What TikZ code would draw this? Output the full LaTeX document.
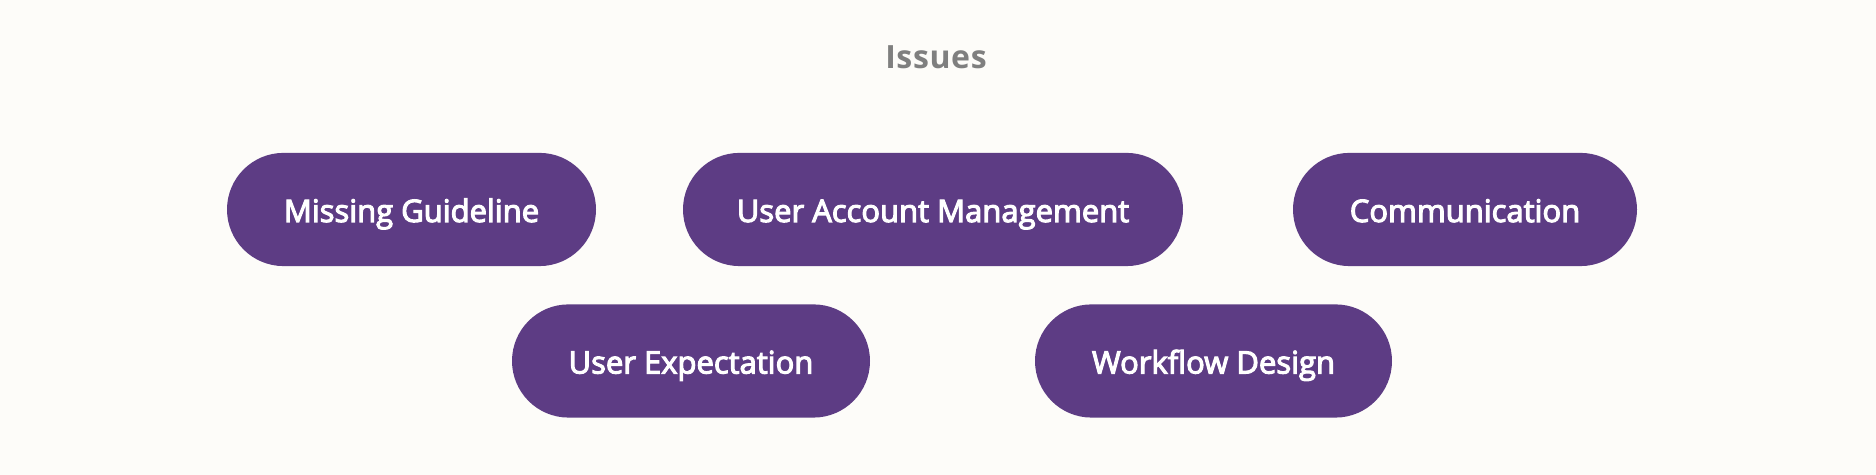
\documentclass[tikz,border=0pt]{standalone}
\usepackage{fontspec}
\setmainfont{Open Sans}
\newfontfamily\pillfont{Open Sans}[FakeBold=3.5]
\newfontfamily\titlefont{Open Sans}[LetterSpace=2]
\usepackage{xcolor}
\usepackage{tikz}
\usetikzlibrary{shapes, positioning}

\definecolor{pillpurple}{HTML}{5D3C84}
\definecolor{titlegray}{HTML}{7F7F7F}
\definecolor{paper}{HTML}{FDFCF9}

\begin{document}
\begin{tikzpicture}[x=0.5pt, y=0.5pt, pill/.style={rectangle, fill=pillpurple, text=white, rounded corners=28.3pt, minimum height=56.6pt, inner sep=0pt, text height=12.5pt, text depth=0pt, font=\pillfont\fontsize{15.5}{18}\selectfont}]

% background
\fill[paper] (0,0) rectangle (1876,475);
\useasboundingbox (0,0) rectangle (1876,475);

\node[font=\titlefont\bfseries\fontsize{16}{18}\selectfont, text=titlegray, anchor=base] (title) at (936,406) {Issues};

% top row
\node[pill, minimum width=184.5pt] (i1) at (411.5,265.5) {Missing Guideline};
\node[pill, minimum width=250pt] (i2) at (933,265.5) {User Account Management};
\node[pill, minimum width=172pt] (i3) at (1465,265.5) {Communication};

% bottom row
\node[pill, minimum width=179pt] (i4) at (691,114) {User Expectation};
\node[pill, minimum width=178.5pt] (i5) at (1213.5,114) {Workflow Design};

\end{tikzpicture}
\end{document}
